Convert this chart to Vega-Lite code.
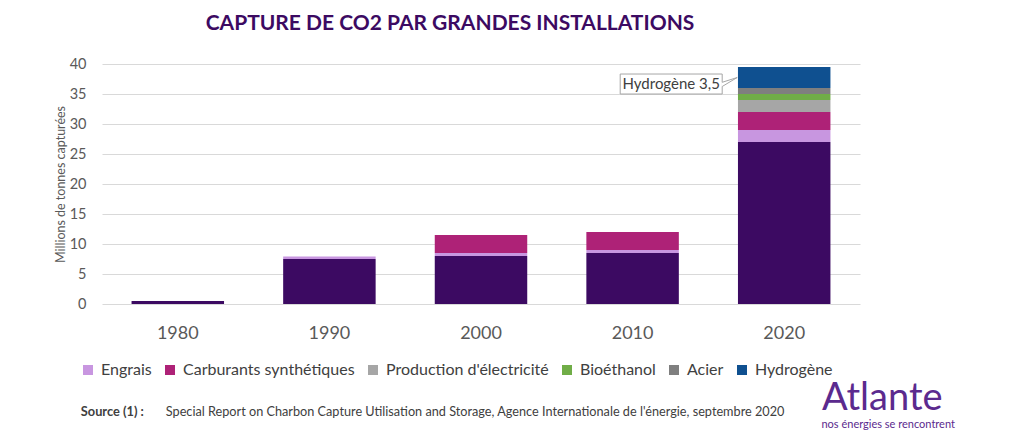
{
  "$schema": "https://vega.github.io/schema/vega-lite/v6.json",
  "width": 758,
  "height": 240,
  "autosize": {"type": "none"},
  "padding": {"left": 102, "top": 64, "right": 164, "bottom": 140},
  "background": "white",
  "config": {
    "view": {"stroke": null},
    "font": "Lato"
  },
  "title": {
    "text": "CAPTURE DE CO2 PAR GRANDES INSTALLATIONS",
    "font": "Lato",
    "fontSize": 21,
    "fontWeight": "bold",
    "color": "#3C0A62",
    "anchor": "middle",
    "dx": -31,
    "offset": 22
  },
  "encoding": {
    "x": {
      "field": "year",
      "type": "nominal",
      "scale": {"paddingInner": 0.39, "paddingOuter": 0.195},
      "axis": {
        "title": null,
        "labelAngle": 0,
        "ticks": false,
        "domain": false,
        "labelFont": "Lato",
        "labelFontSize": 18,
        "labelColor": "#595959",
        "labelPadding": 20
      }
    },
    "y": {
      "field": "value",
      "type": "quantitative",
      "scale": {"domain": [0, 40], "nice": false},
      "axis": {
        "title": "Millions de tonnes capturées",
        "titleFont": "Lato",
        "titleFontSize": 12.5,
        "titleFontWeight": "normal",
        "titleColor": "#595959",
        "titlePadding": 2,
        "values": [0, 5, 10, 15, 20, 25, 30, 35, 40],
        "labelOverlap": false,
        "ticks": false,
        "domain": false,
        "labelFont": "Lato",
        "labelFontSize": 14.5,
        "labelColor": "#595959",
        "labelPadding": 16,
        "gridColor": "#D9D9D9",
        "gridWidth": 1
      }
    }
  },
  "layer": [
    {
      "data": {
        "values": [
          {"year": "1980", "series": "Gaz naturel", "ord": 0, "value": 0.5},
          {"year": "1990", "series": "Gaz naturel", "ord": 0, "value": 7.5},
          {"year": "1990", "series": "Engrais", "ord": 1, "value": 0.4},
          {"year": "2000", "series": "Gaz naturel", "ord": 0, "value": 8},
          {"year": "2000", "series": "Engrais", "ord": 1, "value": 0.5},
          {"year": "2000", "series": "Carburants synthétiques", "ord": 2, "value": 3},
          {"year": "2010", "series": "Gaz naturel", "ord": 0, "value": 8.5},
          {"year": "2010", "series": "Engrais", "ord": 1, "value": 0.5},
          {"year": "2010", "series": "Carburants synthétiques", "ord": 2, "value": 3},
          {"year": "2020", "series": "Gaz naturel", "ord": 0, "value": 27},
          {"year": "2020", "series": "Engrais", "ord": 1, "value": 2},
          {"year": "2020", "series": "Carburants synthétiques", "ord": 2, "value": 3},
          {"year": "2020", "series": "Production d'électricité", "ord": 3, "value": 2},
          {"year": "2020", "series": "Bioéthanol", "ord": 4, "value": 1},
          {"year": "2020", "series": "Acier", "ord": 5, "value": 1},
          {"year": "2020", "series": "Hydrogène", "ord": 6, "value": 3.5}
        ]
      },
      "mark": {"type": "bar"},
      "encoding": {
        "color": {
          "field": "series",
          "type": "nominal",
          "scale": {
            "domain": ["Gaz naturel", "Engrais", "Carburants synthétiques", "Production d'électricité", "Bioéthanol", "Acier", "Hydrogène"],
            "range": ["#3C0A62", "#C896E0", "#AE2277", "#A6A6A6", "#70AD47", "#7F7F7F", "#0F5090"]
          },
          "legend": {
            "title": null,
            "orient": "none",
            "legendX": -22,
            "legendY": 298,
            "direction": "horizontal",
            "values": ["Engrais", "Carburants synthétiques", "Production d'électricité", "Bioéthanol", "Acier", "Hydrogène"],
            "symbolType": "square",
            "symbolSize": 100,
            "symbolStrokeWidth": 0,
            "labelFont": "Lato",
            "labelFontSize": 16,
            "labelColor": "#404040",
            "labelOffset": 5,
            "labelLimit": 400,
            "columnPadding": 10
          }
        },
        "order": {"field": "ord", "type": "quantitative"}
      }
    },
    {
      "data": {"values": [{"year": "2020", "value": 35, "hi": 38.33}]},
      "mark": {"type": "bar", "width": 102, "xOffset": -113, "fill": "white", "stroke": "#A6A6A6", "strokeWidth": 1},
      "encoding": {
        "y2": {"field": "hi"}
      }
    },
    {
      "data": {"values": [{"year": "2020", "value": 36.25, "hi": 36.95}]},
      "mark": {"type": "rule", "xOffset": -62, "x2Offset": -62, "stroke": "white", "strokeWidth": 2},
      "encoding": {
        "x2": {"field": "year"},
        "y2": {"field": "hi"}
      }
    },
    {
      "data": {"values": [{"year": "2020", "value": 36.95, "hi": 37.75}]},
      "mark": {"type": "rule", "xOffset": -62, "x2Offset": -47, "stroke": "#A6A6A6", "strokeWidth": 1},
      "encoding": {
        "x2": {"field": "year"},
        "y2": {"field": "hi"}
      }
    },
    {
      "data": {"values": [{"year": "2020", "value": 36.25, "hi": 37.75}]},
      "mark": {"type": "rule", "xOffset": -62, "x2Offset": -47, "stroke": "#A6A6A6", "strokeWidth": 1},
      "encoding": {
        "x2": {"field": "year"},
        "y2": {"field": "hi"}
      }
    },
    {
      "data": {"values": [{"year": "2020", "value": 36.6, "label": "Hydrogène 3,5"}]},
      "mark": {"type": "text", "dx": -113, "font": "Lato", "fontSize": 15, "color": "#404040", "align": "center", "baseline": "middle"},
      "encoding": {
        "text": {"field": "label"}
      }
    },
    {
      "data": {"values": [{"year": "1980", "value": -18, "label": "Source (1) :"}]},
      "mark": {"type": "text", "dx": -97, "font": "Lato", "fontSize": 12.8, "fontWeight": "bold", "color": "#404040", "align": "left", "baseline": "middle"},
      "encoding": {
        "text": {"field": "label"}
      }
    },
    {
      "data": {"values": [{"year": "1980", "value": -18, "label": "Special Report on Charbon Capture Utilisation and Storage, Agence Internationale de l'énergie, septembre 2020"}]},
      "mark": {"type": "text", "dx": -12, "font": "Lato", "fontSize": 12.7, "color": "#404040", "align": "left", "baseline": "middle"},
      "encoding": {
        "text": {"field": "label"}
      }
    },
    {
      "data": {"values": [{"year": "2020", "value": -15.8, "label": "Atlante"}]},
      "mark": {"type": "text", "dx": 98, "font": "Lato", "fontSize": 38, "color": "#5B2A8E", "align": "center", "baseline": "middle"},
      "encoding": {
        "text": {"field": "label"}
      }
    },
    {
      "data": {"values": [{"year": "2020", "value": -20.2, "label": "nos énergies se rencontrent"}]},
      "mark": {"type": "text", "dx": 104, "font": "Lato", "fontSize": 11, "color": "#5B2A8E", "align": "center", "baseline": "middle"},
      "encoding": {
        "text": {"field": "label"}
      }
    }
  ]
}
